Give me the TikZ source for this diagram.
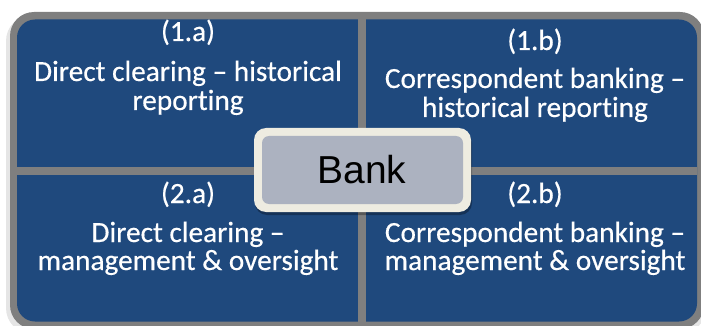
\documentclass[tikz,border=0pt]{standalone}
\usepackage{fontspec}
\setmainfont{Carlito}[FakeBold=0.4, RawFeature=-liga]
\newfontfamily\bankfont{Liberation Sans}
\definecolor{panelblue}{RGB}{31,73,125}
\definecolor{framegray}{RGB}{127,127,127}
\definecolor{bankfill}{RGB}{172,178,192}
\definecolor{bankcream}{RGB}{238,236,225}
\tikzset{
  paneltext/.style={anchor=base, inner sep=0pt, text=white, font=\fontsize{29.3}{30}\selectfont},
  banktext/.style={anchor=base, inner sep=0pt, text=black, font=\bankfont\fontsize{39}{40}\selectfont}
}
\begin{document}
\begin{tikzpicture}[x=1pt, y=-1pt]
\useasboundingbox (0,0) rectangle (701,326);
\clip (0,0) rectangle (701,326);
% soft shadow
\fill[black, opacity=0.10, rounded corners=26pt] (6,15) rectangle (706,334);
% outer gray frame
\fill[framegray, rounded corners=24pt] (10,12) rectangle (704,329);
% blue area
\fill[panelblue, rounded corners=18pt] (17,19.5) rectangle (697,321.5);
% dividers
\fill[framegray] (358,19.5) rectangle (366,321.5);
\fill[framegray] (17,167) rectangle (697,175);
% texts
\node[paneltext] (l1a) at (188,41) {(1.a)};
\node[paneltext] (t1a1) at (188,81) {Direct clearing – historical};
\node[paneltext] (t1a2) at (188,110) {reporting};
\node[paneltext] (l1b) at (535,50) {(1.b)};
\node[paneltext] (t1b1) at (535,88) {Correspondent banking –};
\node[paneltext] (t1b2) at (535,117) {historical reporting};
\node[paneltext] (l2a) at (188,203) {(2.a)};
\node[paneltext] (t2a1) at (188,242) {Direct clearing –};
\node[paneltext] (t2a2) at (188,270) {management \& oversight};
\node[paneltext] (l2b) at (535,203) {(2.b)};
\node[paneltext] (t2b1) at (535,242) {Correspondent banking –};
\node[paneltext] (t2b2) at (535,270) {management \& oversight};
% bank box
\fill[black, opacity=0.3, rounded corners=12pt] (255,131) rectangle (472,215);
\fill[bankcream, rounded corners=12pt] (254,128) rectangle (471,212);
\fill[bankfill, rounded corners=7pt] (262,136) rectangle (463,204);
\node[banktext] (bank) at (362,183) {Bank};
\end{tikzpicture}
\end{document}
